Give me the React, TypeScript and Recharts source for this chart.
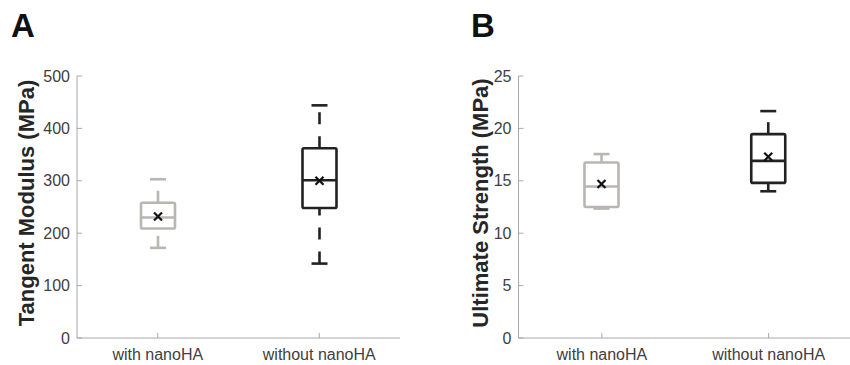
import { Bar, ComposedChart, XAxis, YAxis } from "recharts";

const categories = ["with nanoHA", "without nanoHA"];

// Tangent modulus (MPa)
const modulusMin = [172, 142];
const modulusQ1 = [209, 248];
const modulusMedian = [230, 301];
const modulusQ3 = [258, 362];
const modulusMax = [303, 444];
const modulusMean = [232, 300];
const modulusTicks = [0, 100, 200, 300, 400, 500];

// Ultimate strength (MPa)
const strengthMin = [12.35, 14.0];
const strengthQ1 = [12.5, 14.8];
const strengthMedian = [14.45, 16.9];
const strengthQ3 = [16.75, 19.45];
const strengthMax = [17.55, 21.65];
const strengthMean = [14.7, 17.3];
const strengthTicks = [0, 5, 10, 15, 20, 25];

const boxColors = ["#b9b6b2", "#222222"];
const axisColor = "#a8a8a8";
const textColor = "#404040";
const font = "'Liberation Sans', Arial, sans-serif";
const TICK = 5;

function buildRows(min: number[], q1: number[], median: number[], q3: number[], max: number[], mean: number[]) {
  return categories.map((name, i) => ({
    name,
    min: min[i],
    q1: q1[i],
    median: median[i],
    q3: q3[i],
    max: max[i],
    mean: mean[i],
  }));
}

const modulusRows = buildRows(modulusMin, modulusQ1, modulusMedian, modulusQ3, modulusMax, modulusMean);
const strengthRows = buildRows(strengthMin, strengthQ1, strengthMedian, strengthQ3, strengthMax, strengthMean);

function BoxShape(props: any) {
  const { x, y, width, height, payload } = props;
  const idx = categories.indexOf(payload.name);
  const color = boxColors[idx];
  const top = Math.min(y, y + height);
  const bottom = Math.max(y, y + height);
  const span = payload.max - payload.min;
  const py = (v: number) => bottom - ((v - payload.min) / span) * (bottom - top);
  const cx = x + width / 2;
  const cap = 8;
  const m = 4;
  const sw = 2.6;
  const my = py(payload.mean);
  return (
    <g>
      <line x1={cx} x2={cx} y1={py(payload.min)} y2={py(payload.q1)} stroke={color} strokeWidth={sw} strokeDasharray="12 12" />
      <line x1={cx} x2={cx} y1={py(payload.q3)} y2={py(payload.max)} stroke={color} strokeWidth={sw} strokeDasharray="12 12" />
      <line x1={cx - cap} x2={cx + cap} y1={py(payload.min)} y2={py(payload.min)} stroke={color} strokeWidth={sw} />
      <line x1={cx - cap} x2={cx + cap} y1={py(payload.max)} y2={py(payload.max)} stroke={color} strokeWidth={sw} />
      <rect
        x={x}
        y={py(payload.q3)}
        width={width}
        height={py(payload.q1) - py(payload.q3)}
        fill="none"
        stroke={color}
        strokeWidth={sw}
        rx={1.5}
      />
      <line x1={x} x2={x + width} y1={py(payload.median)} y2={py(payload.median)} stroke={color} strokeWidth={sw} />
      <path
        d={`M${cx - m},${my - m}L${cx + m},${my + m}M${cx + m},${my - m}L${cx - m},${my + m}`}
        stroke="#111"
        strokeWidth={2.2}
      />
    </g>
  );
}

function BottomTick({ x, y, payload }: any) {
  return (
    <g>
      <line x1={x} x2={x} y1={y - 11} y2={y - 11 - TICK} stroke={axisColor} />
      <text x={x} y={y} dy="0.71em" textAnchor="middle" fontSize={16} fill={textColor} fontFamily={font}>
        {payload.value}
      </text>
    </g>
  );
}

function LeftTick({ x, y, payload }: any) {
  return (
    <g>
      <line x1={x + 7} x2={x + 7 + TICK} y1={y} y2={y} stroke={axisColor} />
      <text x={x} y={y} dy="0.355em" textAnchor="end" fontSize={16} fill={textColor} fontFamily={font}>
        {payload.value}
      </text>
    </g>
  );
}

function TopTick({ x, y }: any) {
  return <line x1={x} x2={x} y1={y} y2={y + TICK} stroke={axisColor} />;
}

function RightTick({ x, y }: any) {
  return <line x1={x} x2={x - TICK} y1={y} y2={y} stroke={axisColor} />;
}

function AxisTitle({ viewBox, value, baseX }: any) {
  const cx = baseX;
  const cy = viewBox.y + viewBox.height / 2 - 4;
  return (
    <text
      x={cx}
      y={cy}
      transform={`rotate(-90, ${cx}, ${cy})`}
      textAnchor="middle"
      fontSize={22}
      fontWeight="bold"
      fill="#262626"
      fontFamily={font}
    >
      {value}
    </text>
  );
}

interface PanelProps {
  rows: ReturnType<typeof buildRows>;
  ticks: number[];
  title: string;
  width: number;
  axisWidth: number;
  rightMargin: number;
  titleX: number;
}

function BoxPanel({ rows, ticks, title, width, axisWidth, rightMargin, titleX }: PanelProps) {
  const domain = [ticks[0], ticks[ticks.length - 1]];
  return (
    <ComposedChart width={width} height={365} data={rows} margin={{ top: 76, right: rightMargin, bottom: 0, left: 0 }}>
      <XAxis
        dataKey="name"
        height={27}
        tickSize={0}
        tickMargin={11}
        tickLine={false}
        axisLine={{ stroke: axisColor }}
        tick={<BottomTick />}
        interval={0}
      />
      <XAxis
        xAxisId="top"
        dataKey="name"
        orientation="top"
        height={0}
        tickSize={0}
        tickMargin={0}
        tickLine={false}
        axisLine={{ stroke: axisColor }}
        tick={<TopTick />}
        interval={0}
      />
      <YAxis
        domain={domain}
        ticks={ticks}
        width={axisWidth}
        tickSize={0}
        tickMargin={7}
        tickLine={false}
        axisLine={{ stroke: axisColor }}
        tick={<LeftTick />}
        interval={0}
        label={<AxisTitle value={title} baseX={titleX} />}
      />
      <YAxis
        yAxisId="right"
        orientation="right"
        domain={domain}
        ticks={ticks}
        width={0}
        tickSize={0}
        tickMargin={0}
        tickLine={false}
        axisLine={{ stroke: axisColor }}
        tick={<RightTick />}
        interval={0}
      />
      <Bar
        dataKey={(d: any) => [d.min, d.max]}
        barSize={34}
        fill="none"
        isAnimationActive={false}
        shape={(p: any) => <BoxShape {...p} />}
      />
    </ComposedChart>
  );
}

const letterStyle = {
  position: "absolute" as const,
  top: 9,
  fontFamily: font,
  fontWeight: "bold" as const,
  fontSize: 33,
  lineHeight: 1,
  color: "#111",
};

export default function App() {
  return (
    <div style={{ position: "absolute", left: 0, top: 0, width: 850, height: 365, overflow: "hidden", background: "#fff" }}>
      <div style={{ position: "absolute", left: 0, top: 0 }}>
        <BoxPanel
          rows={modulusRows}
          ticks={modulusTicks}
          title="Tangent Modulus (MPa)"
          width={425}
          axisWidth={77}
          rightMargin={25}
          titleX={34}
        />
      </div>
      <div style={{ position: "absolute", left: 425, top: 0 }}>
        <BoxPanel
          rows={strengthRows}
          ticks={strengthTicks}
          title="Ultimate Strength (MPa)"
          width={430}
          axisWidth={93.5}
          rightMargin={3}
          titleX={63}
        />
      </div>
      <div style={{ ...letterStyle, left: 11 }}>A</div>
      <div style={{ ...letterStyle, left: 471 }}>B</div>
    </div>
  );
}
